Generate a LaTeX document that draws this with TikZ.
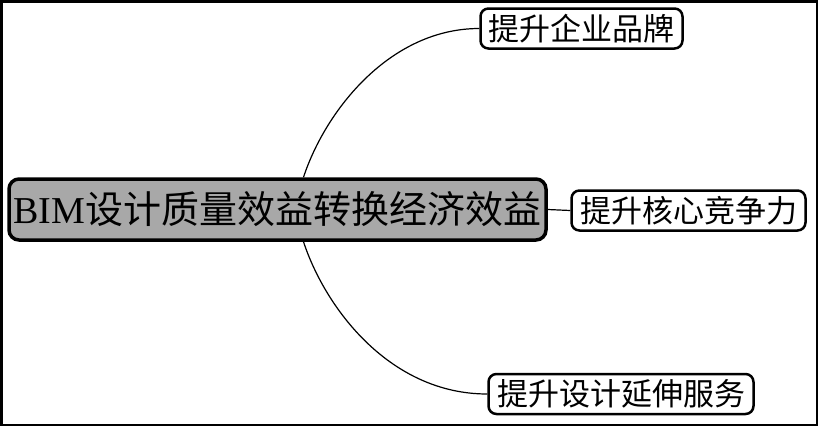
\documentclass[tikz,border=0pt]{standalone}
\usepackage{fontspec}
\setmainfont{Liberation Serif}
\newfontfamily\cjk{Noto Sans CJK SC}
\definecolor{rootgray}{RGB}{168,168,168}
\tikzset{
  topic/.style={draw,line width=2.5pt,rounded corners=8pt,inner sep=0pt,
    minimum height=40pt,text height=27pt,text depth=4pt,font=\fontsize{31}{31}\cjk},
  rootbox/.style={topic,line width=3.5pt,rounded corners=10pt,fill=rootgray,
    minimum height=61pt,text height=33pt,text depth=5pt,font=\fontsize{38}{38}\selectfont},
  branch/.style={line width=1.2pt},
}
\begin{document}
\begin{tikzpicture}[x=1pt,y=-1pt]
\useasboundingbox (0,0) rectangle (818,426);
\draw[line width=2.5pt] (1.25,1.25) rectangle (816.75,424.75);
\node[rootbox,minimum width=537pt] (root) at (277.5,209.5) {BIM{\cjk 设计质量效益转换经济效益}};
\node[topic,minimum width=202pt] (brand) at (581.5,28.5) {提升企业品牌};
\node[topic,minimum width=234pt] (core) at (688.5,210.5) {提升核心竞争力};
\node[topic,minimum width=265pt] (service) at (621,394) {提升设计延伸服务};
\draw[branch] ([xshift=26pt]root.north) .. controls +(22,-67) and +(-89,0) .. (brand.west);
\draw[branch] (root.east) -- (core.west);
\draw[branch] ([xshift=26pt]root.south) .. controls +(22,67) and +(-97,0) .. (service.west);
\end{tikzpicture}
\end{document}
